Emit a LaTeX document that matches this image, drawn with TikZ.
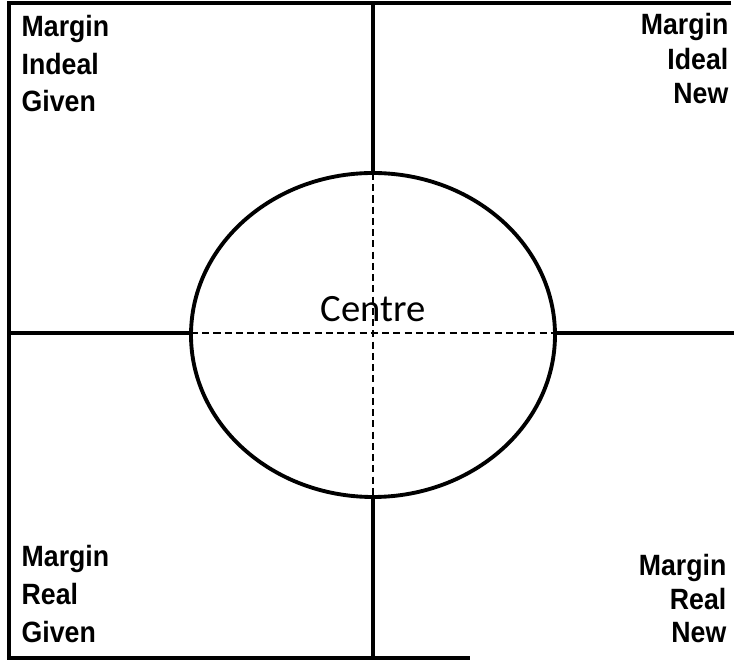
\documentclass[tikz,border=0pt]{standalone}
\usepackage{fontspec}
\setmainfont{Liberation Sans}
\newfontfamily\centrefont{Carlito}
\newfontfamily\quadfont[FakeStretch=0.91]{Liberation Sans Bold}

\begin{document}
\begin{tikzpicture}[x=0.02cm, y=-0.02cm, line width=1.9pt,
    guide/.style={line width=0.9pt, dash pattern=on 4pt off 2.4pt},
    lbl/.style={inner sep=0pt, font=\quadfont\fontsize{16.7}{20}\selectfont}]
  \useasboundingbox (0,0) rectangle (734,661);
  % frame (open on the right)
  \draw (731,3) -- (9,3) -- (9,658) -- (470,658);
  % centre ellipse and the axes through it
  \draw[line width=2.2pt] (373,335) ellipse [x radius=182, y radius=162];
  \coordinate (l) at (191,333); \coordinate (r) at (555,333);
  \coordinate (t) at (373,173); \coordinate (b) at (373,497);
  \draw (9,333) -- (l); \draw (r) -- (734,333);
  \draw (373,3) -- (t); \draw (b) -- (373,658);
  \draw[guide] (l) -- (r);
  \draw[guide] (t) -- (b);
  \node[inner sep=0pt, anchor=base, font=\centrefont\fontsize{22}{26}\selectfont] (centre) at (373,322) {Centre};
  % quadrant labels
  \node[lbl, anchor=base west] (tl1) at (20,37) {Margin};
  \node[lbl, anchor=base west] (tl2) at (20,75) {Indeal};
  \node[lbl, anchor=base west] (tl3) at (20,112) {Given};
  \node[lbl, anchor=base east] (tr1) at (730,35) {Margin};
  \node[lbl, anchor=base east] (tr2) at (730,70) {Ideal};
  \node[lbl, anchor=base east] (tr3) at (730,104) {New};
  \node[lbl, anchor=base west] (bl1) at (20,567) {Margin};
  \node[lbl, anchor=base west] (bl2) at (20,605) {Real};
  \node[lbl, anchor=base west] (bl3) at (20,643) {Given};
  \node[lbl, anchor=base east] (br1) at (728,576) {Margin};
  \node[lbl, anchor=base east] (br2) at (728,610) {Real};
  \node[lbl, anchor=base east] (br3) at (728,643) {New};
\end{tikzpicture}
\end{document}
